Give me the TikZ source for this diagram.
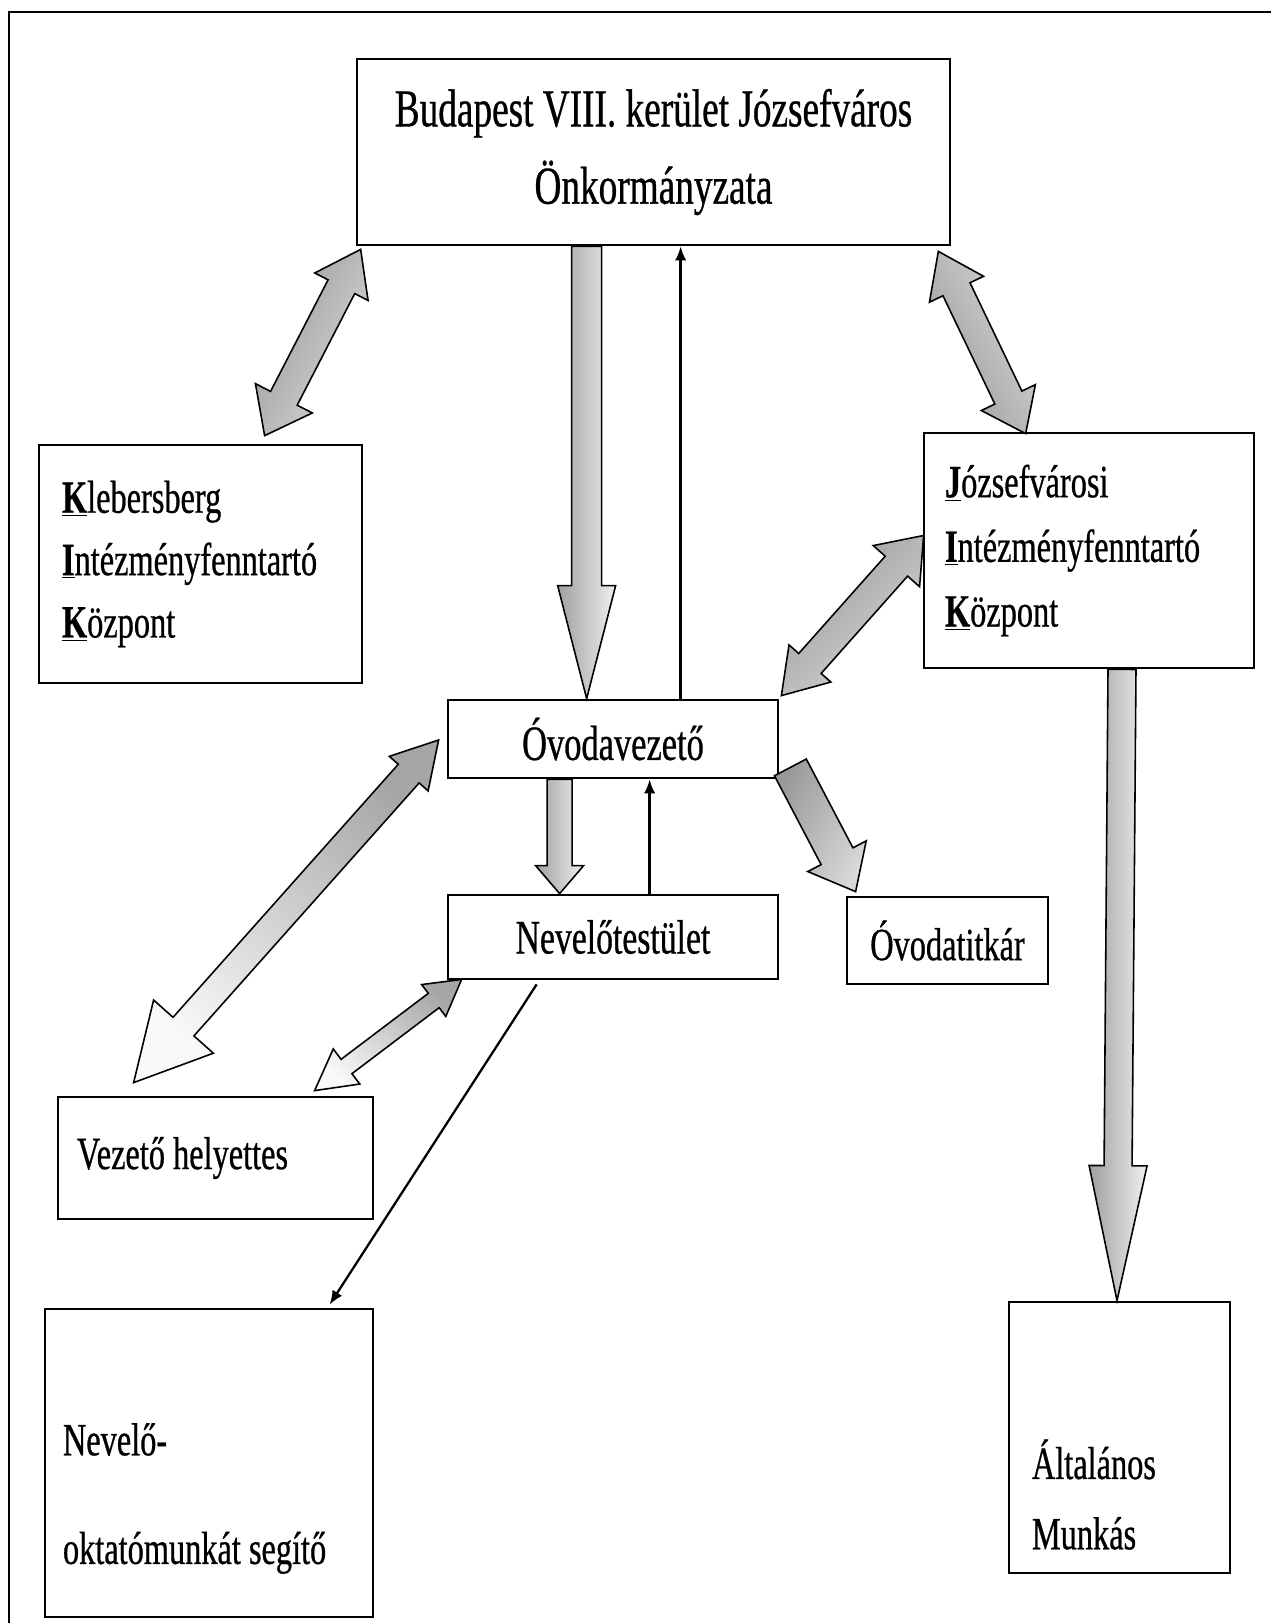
\documentclass[tikz,border=0pt]{standalone}
\usepackage{fontspec}
\setmainfont{Liberation Serif}[FakeStretch=0.7, FakeBold=0.6]
\usepackage{tikz}
\usetikzlibrary{calc,arrows.meta}

\tikzset{
  box/.style={draw, line width=1.6pt, inner sep=0pt},
  txt/.style={inner sep=0pt, font=\fontsize{26.3pt}{36pt}\selectfont},
  blockarrow/.style={draw=black, line width=0.9pt, left color=gray!75, right color=gray!12},
  darkshade/.style={left color=gray!80, right color=gray!30},
  thinarrow/.style={line width=1.3pt, -{Latex[length=8pt,width=6.5pt]}}
}

% block arrow with one head: [opts]{tail}{tip}{shaft half width}{head half width}{head length}
\newcommand{\onearrow}[6][]{%
  \path ($(#3)!#6!(#2)$) coordinate (hb);
  \shadedraw[blockarrow,#1]
    ($(#2)!#4!90:(#3)$) -- ($(hb)!#4!90:(#3)$) -- ($(hb)!#5!90:(#3)$) -- (#3)
    -- ($(hb)!#5!-90:(#3)$) -- ($(hb)!#4!-90:(#3)$) -- ($(#2)!#4!-90:(#3)$) -- cycle;
}
% block arrow with two heads: [opts]{end a}{end b}{shaft}{head a width}{head a length}{head b width}{head b length}
\newcommand{\twoarrow}[8][]{%
  \path ($(#2)!#6!(#3)$) coordinate (ha) ($(#3)!#8!(#2)$) coordinate (hb);
  \shadedraw[blockarrow,#1]
    (#2) -- ($(ha)!#5!90:(#3)$) -- ($(ha)!#4!90:(#3)$) -- ($(hb)!#4!90:(#3)$)
    -- ($(hb)!#7!90:(#3)$) -- (#3) -- ($(hb)!#7!-90:(#3)$) -- ($(hb)!#4!-90:(#3)$)
    -- ($(ha)!#4!-90:(#3)$) -- ($(ha)!#5!-90:(#3)$) -- cycle;
}

\begin{document}
\begin{tikzpicture}[x=0.02cm, y=-0.02cm]
  \useasboundingbox (0,0) rectangle (1271,1623);

  % frame (top and left edge)
  \draw[line width=1.7pt] (9,1623) -- (9,12) -- (1271,12);

  % boxes
  \node[box, minimum width=11.86cm, minimum height=3.72cm, align=center,
        font=\fontsize{30.3pt}{44pt}\selectfont] (onk) at (653.5,152)
        {Budapest VIII. kerület Józsefváros\\Önkormányzata};
  \node[box, txt, minimum width=6.46cm, minimum height=4.76cm, inner xsep=0.46cm,
        text width=5.54cm, align=flush left, font=\fontsize{26.3pt}{35.5pt}\selectfont] (klik) at (200.5,564)
        {\textbf{\underline{K}}lebersberg\\\textbf{\underline{I}}ntézményfenntartó\\\textbf{\underline{K}}özpont};
  \node[box, txt, minimum width=6.6cm, minimum height=4.7cm, inner xsep=0.42cm,
        text width=5.76cm, align=flush left, font=\fontsize{26.3pt}{36.8pt}\selectfont] (jik) at (1089,550.5)
        {\textbf{\underline{J}}ózsefvárosi\\\textbf{\underline{I}}ntézményfenntartó\\\textbf{\underline{K}}özpont};
  \node[box, minimum width=6.6cm, minimum height=1.56cm, font=\fontsize{28pt}{30pt}\selectfont]
        (ovv) at (613,739) {Óvodavezető};
  \node[box, minimum width=6.6cm, minimum height=1.68cm, font=\fontsize{27.4pt}{30pt}\selectfont]
        (nev) at (613,937) {Nevelőtestület};
  \node[box, txt, minimum width=4.02cm, minimum height=1.74cm] (titk) at (947.5,940.5) {Óvodatitkár};
  \node[box, minimum width=6.3cm, minimum height=2.44cm] (vhely) at (215.5,1158) {};
  \node[txt, anchor=west] (vhelytxt) at ($(vhely.west)+(20,0)$) {Vezető helyettes};
  \node[box, minimum width=6.56cm, minimum height=6.16cm] (nevok) at (209,1463) {};
  \node[txt, anchor=west, align=left, font=\fontsize{26.3pt}{61.8pt}\selectfont] (nevoktxt)
        at ($(nevok.west)+(19,35.5)$) {Nevelő-\\oktatómunkát segítő};
  \node[box, minimum width=4.42cm, minimum height=5.42cm] (altm) at (1119.5,1437.5) {};
  \node[txt, anchor=west, align=left, font=\fontsize{26.3pt}{40pt}\selectfont] (altmtxt)
        at ($(altm.west)+(24,57)$) {Általános\\Munkás};

  % arrow ends
  \coordinate (a1) at ($(onk.south west)+(231,0)$);
  \coordinate (a2) at (a1 |- ovv.north);
  \coordinate (b1) at ($(ovv.north west)+(234,0)$);
  \coordinate (c1) at ($(ovv.south west)+(113,0)$);
  \coordinate (c2) at (c1 |- nev.north);
  \coordinate (e1) at ($(nev.north west)+(203,0)$);
  \coordinate (f1) at ($(ovv.south east)+(11,-12)$);
  \coordinate (f2) at ($(titk.north west)+(10,-4)$);
  \coordinate (g1) at ($(onk.south west)+(5,3)$);
  \coordinate (g2) at ($(klik.north west)+(227,-8)$);
  \coordinate (h1) at ($(onk.south east)+(-13,5)$);
  \coordinate (h2) at ($(jik.north west)+(103,2)$);
  \coordinate (k1) at ($(jik.west)+(1,-15)$);
  \coordinate (k2) at ($(ovv.north east)+(2,-3)$);
  \coordinate (m1) at ($(ovv.west)+(-8,1)$);
  \coordinate (m2) at ($(vhely.north west)+(77,-13)$);
  \coordinate (n1) at ($(nev.south west)+(15,-1)$);
  \coordinate (n2) at ($(vhely.north west)+(258,-5)$);
  \coordinate (p1) at ($(nev.south west)+(90,4)$);
  \coordinate (p2) at ($(nevok.north west)+(286,-3)$);
  \coordinate (q1) at ($(jik.south)+(33,0)$);
  \coordinate (q2) at ($(altm.north)+(-2.5,0)$);

  % block arrows
  \onearrow{a1}{a2}{0.3cm}{0.58cm}{2.26cm}
  \onearrow{c1}{c2}{0.25cm}{0.48cm}{0.56cm}
  \onearrow[darkshade, shading angle=63]{f1}{f2}{0.36cm}{0.66cm}{0.8cm}
  \onearrow{q1}{q2}{0.28cm}{0.58cm}{2.7cm}
  \twoarrow[darkshade, shading angle=63]{g1}{g2}{0.3cm}{0.6cm}{0.84cm}{0.64cm}{0.84cm}
  \twoarrow[darkshade, shading angle=117]{h1}{h2}{0.3cm}{0.6cm}{0.84cm}{0.6cm}{0.8cm}
  \twoarrow[darkshade, shading angle=45]{k1}{k2}{0.3cm}{0.62cm}{0.82cm}{0.56cm}{0.86cm}
  \twoarrow[left color=gray!5, right color=gray!70, shading angle=138]{m1}{m2}{0.28cm}{0.52cm}{0.9cm}{0.8cm}{1.5cm}
  \twoarrow[left color=gray!5, right color=gray!70, shading angle=142]{n1}{n2}{0.18cm}{0.4cm}{0.7cm}{0.44cm}{0.8cm}

  % thin arrows
  \draw[thinarrow] (b1) -- (b1 |- onk.south);
  \draw[thinarrow] (e1) -- (e1 |- ovv.south);
  \draw[thinarrow] (p1) -- (p2);
\end{tikzpicture}
\end{document}
